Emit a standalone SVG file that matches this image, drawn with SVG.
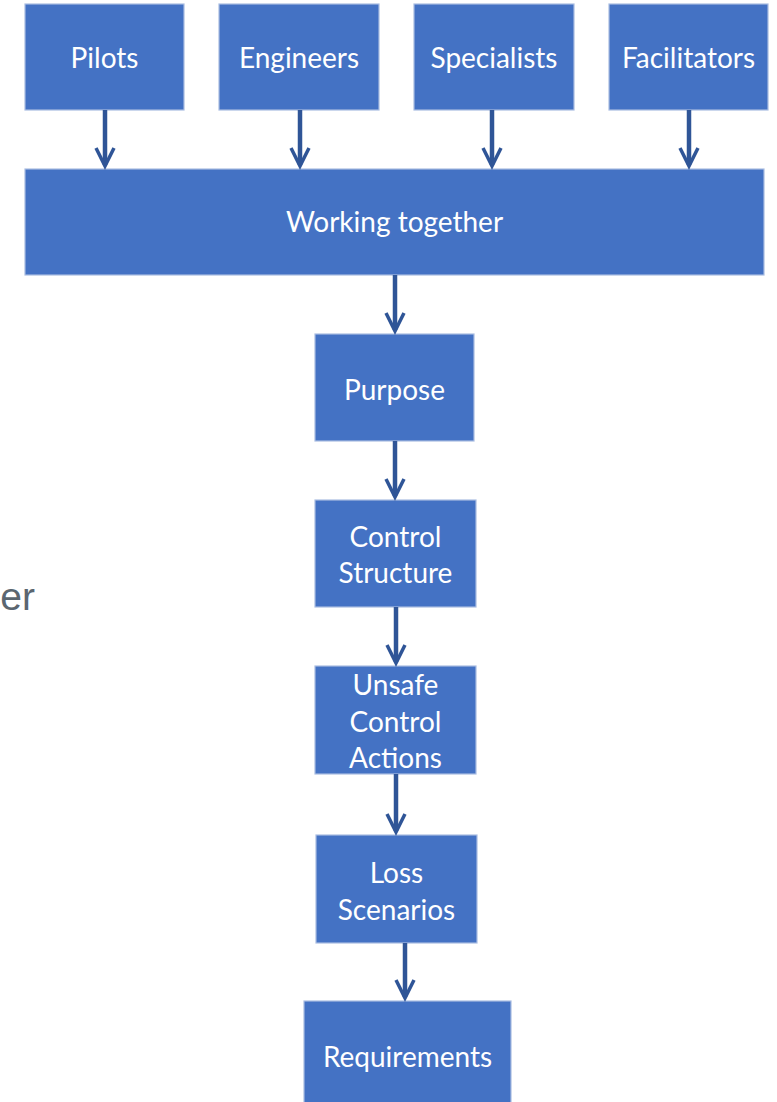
<svg xmlns="http://www.w3.org/2000/svg" width="777" height="1102" viewBox="0 0 777 1102">
<defs>
<style>
.box{fill:#4472C4;stroke:#A9BDE2;stroke-width:1.2}
.t{font-family:Lato,"Liberation Sans",sans-serif;font-size:28px;fill:#FFFFFF;text-anchor:middle}
.c{stroke:#2F5597;stroke-width:4.5;fill:none}
.h{stroke:#2F5597;stroke-width:3.5;fill:none;stroke-linejoin:miter}
</style>
</defs>
<rect width="777" height="1102" fill="#FFFFFF"/>
<text x="35" y="610" font-family="Liberation Sans,Arial,sans-serif" font-size="39" fill="#5B6670" text-anchor="end">er</text>
<g id="pilots"><rect class="box" x="25" y="4" width="159" height="106"/><text class="t" x="104.5" y="67.5">Pilots</text></g>
<g id="engineers"><rect class="box" x="219" y="4" width="160" height="106"/><text class="t" x="299" y="67.5">Engineers</text></g>
<g id="specialists"><rect class="box" x="414" y="4" width="160" height="106"/><text class="t" x="494" y="67.5">Specialists</text></g>
<g id="facilitators"><rect class="box" x="609" y="4" width="159" height="106"/><text class="t" x="688.5" y="67.5">Facilitators</text></g>
<g id="working"><rect class="box" x="25" y="169" width="739" height="106"/><text class="t" x="394.5" y="231.5">Working together</text></g>
<g id="purpose"><rect class="box" x="315" y="334" width="159" height="107"/><text class="t" x="394.5" y="399.5">Purpose</text></g>
<g id="control"><rect class="box" x="315" y="500" width="161" height="107"/><text class="t" x="395.5" y="546.5">Control</text><text class="t" x="395.5" y="582.5">Structure</text></g>
<g id="uca"><rect class="box" x="315" y="666" width="161" height="108"/><text class="t" x="395.5" y="694.5">Unsafe</text><text class="t" x="395.5" y="731.5">Control</text><text class="t" x="395.5" y="767.5">Actions</text></g>
<g id="loss"><rect class="box" x="316" y="835" width="161" height="108"/><text class="t" x="396.5" y="882.5">Loss</text><text class="t" x="396.5" y="919.5">Scenarios</text></g>
<g id="requirements"><rect class="box" x="304" y="1001" width="207" height="110"/><text class="t" x="407.5" y="1066.5">Requirements</text></g>
<g id="connectors">
<path class="c" d="M105 110V165"/><path class="h" d="M96 148L105 166L114 148"/>
<path class="c" d="M300 110V165"/><path class="h" d="M291 148L300 166L309 148"/>
<path class="c" d="M492 110V165"/><path class="h" d="M483 148L492 166L501 148"/>
<path class="c" d="M689 110V165"/><path class="h" d="M680 148L689 166L698 148"/>
<path class="c" d="M395 275V330"/><path class="h" d="M386 313L395 331L404 313"/>
<path class="c" d="M395 441V496"/><path class="h" d="M386 479L395 497L404 479"/>
<path class="c" d="M396 607V662"/><path class="h" d="M387 645L396 663L405 645"/>
<path class="c" d="M396 774V831"/><path class="h" d="M387 814L396 832L405 814"/>
<path class="c" d="M405 943V997"/><path class="h" d="M396 980L405 998L414 980"/>
</g>
</svg>
